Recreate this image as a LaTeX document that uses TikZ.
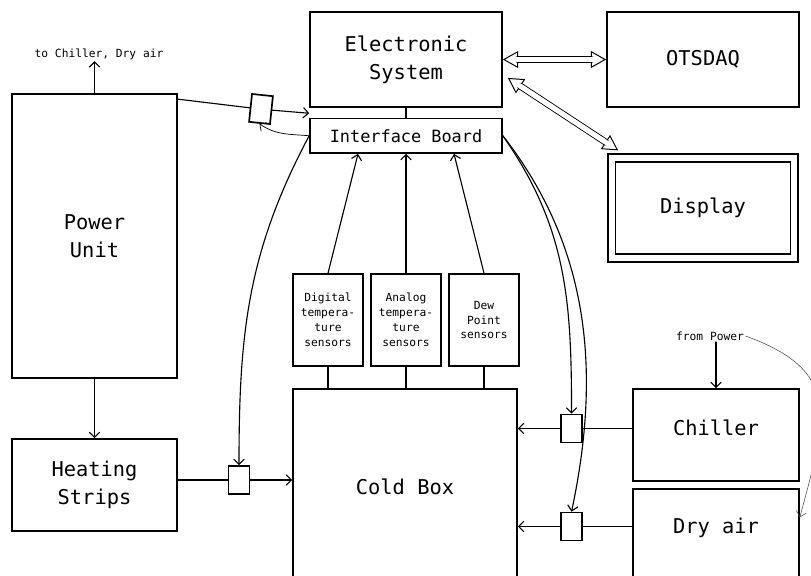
\documentclass[tikz,border=0pt]{standalone}
\usepackage{fontspec}
\setmonofont{DejaVu Sans Mono}
\usetikzlibrary{arrows.meta}
\newcommand{\fntbig}{\ttfamily\fontsize{14.5}{20}\selectfont}
\newcommand{\fntmid}{\ttfamily\fontsize{12}{14}\selectfont}
\newcommand{\fntsmall}{\ttfamily\fontsize{8}{10.6}\selectfont}
\tikzset{blk/.style={draw=black,line width=1.2pt,line join=miter,font=\fntbig,align=center,inner sep=0pt},
 sensorbox/.style={blk,font=\fntsmall,minimum width=1.750cm,minimum height=2.300cm},
 valve/.style={draw=black,line width=1.2pt,line join=miter,minimum width=0.525cm,minimum height=0.700cm,inner sep=0pt},
 note/.style={font=\fntsmall,inner sep=1pt},
 wire/.style={line width=0.8pt},
 dbl/.style={double,double distance=3.5pt,line width=0.7pt,line join=miter,
   arrows={Triangle[open,length=3.8mm,width=4.2mm]-Triangle[open,length=3.8mm,width=4.2mm]}},
 dblgap/.style={draw=white,line width=3.4pt,line cap=butt,shorten <=2.6mm,shorten >=2.6mm},
 every picture/.style={line join=round,line cap=round}}

\begin{document}
\begin{tikzpicture}[>={Straight Barb[length=1.3mm,width=2.6mm]}]
\useasboundingbox (0,0) rectangle (20.275,-14.375);
% blocks
\node[blk,minimum width=4.125cm,minimum height=7.100cm] (pwr) at (2.363,-5.900) {Power\\Unit};
\node[blk,minimum width=4.125cm,minimum height=2.300cm] (heat) at (2.363,-12.125) {Heating\\Strips};
\node[blk,minimum width=5.600cm,minimum height=4.900cm] (cold) at (10.125,-12.175) {Cold Box};
\node[blk,minimum width=4.800cm,minimum height=2.375cm] (elec) at (10.150,-1.488) {Electronic\\System};
\node[blk,font=\fntmid,minimum width=4.800cm,minimum height=0.863cm] (ifb) at (10.150,-3.394) {Interface Board};
\node[blk,minimum width=4.800cm,minimum height=2.375cm] (daq) at (17.575,-1.488) {OTSDAQ};
\node[blk,double,double distance=4.3pt,minimum width=4.563cm,minimum height=2.500cm] (disp) at (17.575,-5.200) {Display};
\node[blk,text depth=0.35cm,minimum width=4.150cm,minimum height=2.300cm] (chil) at (17.900,-10.875) {Chiller};
\node[blk,text depth=0.94cm,minimum width=4.150cm,minimum height=2.775cm] (dry) at (17.900,-13.613) {Dry air};
\node[sensorbox] (dig) at (8.200,-8.000) {Digital\\tempera-\\ture\\sensors};
\node[sensorbox] (ana) at (10.150,-8.000) {Analog\\tempera-\\ture\\sensors};
\node[sensorbox] (dew) at (12.100,-8.000) {Dew\\Point\\sensors};
\node[valve,rotate=-6] (v1) at (6.525,-2.725) {};
\node[valve] (vh) at (5.975,-12.000) {};
\node[valve] (vc) at (14.288,-10.713) {};
\node[valve] (vd) at (14.288,-13.163) {};
\node[note] (tolbl) at (2.475,-1.350) {to Chiller, Dry air};
\node[note] (pow) at (17.750,-8.400) {from Power};
% connectors
\draw[wire,->] (pwr.north) -- (pwr.north |- tolbl.south);
\draw[wire,->] (pwr) -- (heat);
\draw[wire] (heat.east |- vh) -- (vh.west);
\draw[wire,->] (vh.east) -- (vh.east -| cold.west);
\draw[wire] ([yshift=-0.15cm]pwr.north east) -- (v1.west);
\draw[wire,->] (v1.east) -- ([yshift=0.11cm]ifb.north west);
\draw[wire] (elec) -- (ifb);
\coordinate (dspA) at ([shift={(0.125,-0.46)}]elec.east);
\coordinate (dspB) at ([shift={(0.18,0.17)}]disp.north west);
\draw[dbl] (elec) -- (daq);
\draw[dblgap] (elec) -- (daq);
\draw[dbl] (dspA) -- (dspB);
\draw[dblgap] (dspA) -- (dspB);
\draw[wire,->] (dig.north) -- ([xshift=-1.2cm]ifb.south);
\draw[wire,->] (ana.north) -- (ifb.south);
\draw[wire,->] (dew.north) -- ([xshift=1.2cm]ifb.south);
\foreach \s in {dig,ana,dew}
  \draw[wire] (\s.south) -- (\s.south |- cold.north);
\draw[wire] (chil.west |- vc) -- (vc.east);
\draw[wire,->] (vc.west) -- (vc.west -| cold.east);
\draw[wire] (dry.west |- vd) -- (vd.east);
\draw[wire,->] (vd.west) -- (vd.west -| cold.east);
\draw[wire,->] (pow.south -| chil.north) -- (chil.north);
\draw[line width=0.5pt,->] (ifb.west) to[out=175,in=-35] (v1.south);
\draw[wire,->] (ifb.west) to[out=-118,in=90] (vh.north);
\draw[wire,->] (ifb.east) to[out=-55,in=90] (vc.north);
\draw[wire,->] (ifb.east) to[out=-52,in=78,looseness=0.95] (vd.north);
\draw[line width=0.4pt,black!70,->] (pow.east) to[out=-20,in=75,looseness=1.4] ([yshift=-0.725cm]dry.north east);
\end{tikzpicture}
\end{document}
